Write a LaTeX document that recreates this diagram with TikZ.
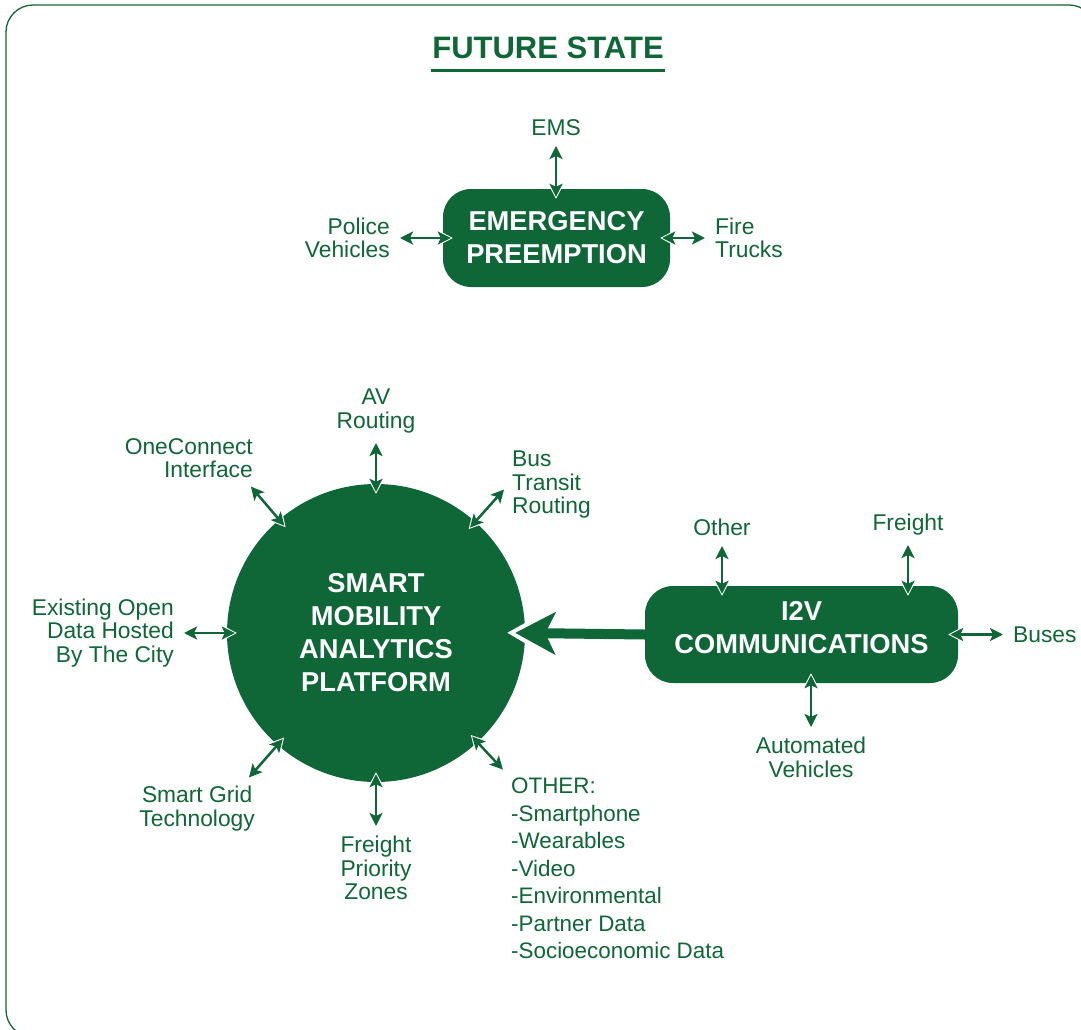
\documentclass[tikz,border=0pt]{standalone}
\usepackage{fontspec}
\setmainfont{Liberation Sans}
\usetikzlibrary{arrows.meta,positioning}
\definecolor{cityGreen}{RGB}{15,102,54}

\begin{document}
\begin{tikzpicture}[
    x=1pt, y=-1pt,
    every node/.style={text=cityGreen, font=\fontsize{22.8}{23.5}\selectfont},
    hub/.style={fill=cityGreen, text=white, align=center, inner sep=0pt,
                font=\bfseries\fontsize{27.3}{33}\selectfont},
    pill/.style={hub, rectangle, rounded corners=28pt},
    feed/.style={inner sep=4pt},
    link/.style={draw=cityGreen, line width=2.5pt,
                 >={Stealth[length=13pt,width=13pt,inset=3pt]}, <->,
                 shorten <=6pt, shorten >=-8pt,
                 preaction={draw=white, line width=5.5pt,
                            >={Stealth[length=18pt,width=19pt,inset=4pt]}, <->,
                            shorten <=6pt, shorten >=-10pt}},
    mainflow/.style={draw=cityGreen, line width=10pt,
                     -{Stealth[length=40pt,width=42pt,inset=10pt]},
                     shorten <=-2pt, shorten >=-10pt,
                     preaction={draw=white, line width=10pt,
                                -{Stealth[length=50pt,width=56pt,inset=12pt]},
                                shorten <=0pt, shorten >=-18pt}}
]
\useasboundingbox (0,0) rectangle (1081,1030);

% Outer frame
\begin{scope}
  \clip (0,0) rectangle (1081,1030);
  \draw[cityGreen, line width=1.3pt, rounded corners=27pt] (6,5) rectangle (1096,1037);
\end{scope}

% Title
\node[font=\bfseries\fontsize{31}{36}\selectfont, inner sep=1pt] (title) at (548,48) {FUTURE STATE};
\draw[cityGreen, line width=3pt] ([yshift=-12pt]title.base west) -- ([yshift=-12pt]title.base east);

% Hubs
\node[pill, minimum width=227pt, minimum height=98pt] (emerg) at (556.5,238) {EMERGENCY\\PREEMPTION};
\node[hub, circle, minimum size=298pt] (smap) at (376,633) {SMART\\MOBILITY\\ANALYTICS\\PLATFORM};
\node[pill, minimum width=313pt, minimum height=97pt, text depth=14pt] (i2v) at (801.5,634.5) {I2V\\COMMUNICATIONS};

% Feeds around the emergency box
\node[feed, anchor=south] (ems) at (556,140) {EMS};
\node[feed, anchor=east, align=right] (police) at (394,238) {Police\\Vehicles};
\node[feed, anchor=west, align=left] (fire) at (711,238) {Fire\\Trucks};

% Feeds around the platform
\node[feed, anchor=south, align=center] (avr) at (376,437) {AV\\Routing};
\node[feed, anchor=south east, align=right] (onec) at (257,482) {OneConnect\\Interface};
\node[feed, anchor=west, align=left] (bus) at (508,485) {Bus\\Transit\\Routing};
\node[feed, anchor=east, align=right] (open) at (178,633) {Existing Open\\Data Hosted\\By The City};
\node[feed, anchor=north east, align=center] (grid) at (259,782) {Smart Grid\\Technology};
\node[feed, anchor=north, align=center] (fpz) at (376,832) {Freight\\Priority\\Zones};
\node[feed, anchor=north west, align=left, font=\fontsize{22.4}{27.5}\selectfont] (other) at (507,774)
     {OTHER:\\-Smartphone\\-Wearables\\-Video\\-Environmental\\-Partner Data\\-Socioeconomic Data};

% Feeds around I2V
\node[feed, anchor=south] (oth) at (722,540) {Other};
\node[feed, anchor=south] (frt) at (908,539) {Freight};
\node[feed, anchor=west] (buses) at (1009,634.5) {Buses};
\node[feed, anchor=north, align=center] (auto) at (811,733) {Automated\\Vehicles};

% Two-way links
\draw[link] (ems.south) -- (ems.south |- emerg.north);
\draw[link] (police.east) -- (emerg.west);
\draw[link] (fire.west) -- (emerg.east);

\draw[link] (avr.south) -- (smap.north);
\draw[link] ([xshift=-10pt]onec.south east) -- (smap);
\draw[link] (bus.west) -- (smap);
\draw[link] (open.east) -- (smap.west);
\draw[link] ([xshift=-14pt]grid.north east) -- (smap);
\draw[link] (fpz.north) -- (smap.south);
\draw[link] (other.north west) -- (smap);

\draw[link] (oth.south) -- (oth.south |- i2v.north);
\draw[link] (frt.south) -- (frt.south |- i2v.north);
\draw[link] (buses.west) -- (i2v.east);
\draw[link] (auto.north) -- (auto.north |- i2v.south);

% I2V feeds the platform
\draw[mainflow] (i2v.west) -- (smap.east);

\end{tikzpicture}
\end{document}
